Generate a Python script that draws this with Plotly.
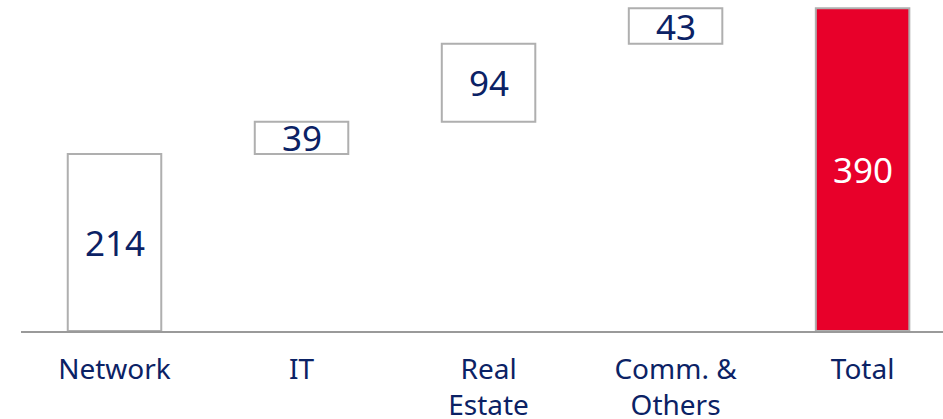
import plotly.graph_objects as go

categories = ["Network", "IT", "Real<br>Estate", "Comm. &<br>Others", "Total"]
values = [214, 39, 94, 43, 390]
measures = ["relative", "relative", "relative", "relative", "total"]

NAVY = "#0B2265"
RED = "#E8002A"
GRAY = "#AFAFAF"

# midpoints for value labels, derived from data
bases = []
run = 0
for v, m in zip(values, measures):
    if m == "total":
        bases.append(0)
    else:
        bases.append(run)
        run += v
mids = [b + v / 2 for b, v in zip(bases, values)]
text_colors = [NAVY, NAVY, NAVY, NAVY, "white"]

fig = go.Figure()
fig.add_trace(go.Waterfall(
    x=categories, y=values, measure=measures,
    width=0.5,
    increasing=dict(marker=dict(color="white", line=dict(color=GRAY, width=2))),
    decreasing=dict(marker=dict(color="white", line=dict(color=GRAY, width=2))),
    totals=dict(marker=dict(color=RED, line=dict(color=GRAY, width=2))),
    connector=dict(visible=False),
    hoverinfo="skip",
    showlegend=False,
    cliponaxis=False,
))

for cat, mid, val, col in zip(categories, mids, values, text_colors):
    fig.add_annotation(
        x=cat, y=mid, text=str(val), showarrow=False,
        xanchor="center", yanchor="middle", yshift=0,
        font=dict(size=35, color=col, family="Noto Sans"),
    )

fig.update_layout(
    width=943, height=419,
    margin=dict(l=21, r=0, t=0, b=88, autoexpand=False),
    paper_bgcolor="white", plot_bgcolor="white",
    font=dict(family="Noto Sans", color=NAVY),
)
fig.update_xaxes(
    range=[-0.5, 4.43], showgrid=False, zeroline=False, automargin=False,
    showline=True, linecolor="#9A9A9A", linewidth=2,
    tickfont=dict(size=28, color=NAVY, family="Noto Sans"),
    ticks="", ticklabelstandoff=12,
)
fig.update_yaxes(range=[0, 400], visible=False, showgrid=False, zeroline=False,
                 automargin=False)

fig.write_html("out.html", config={"displayModeBar": False},
               post_script="document.body.style.margin='0';document.body.style.overflow='hidden';")
